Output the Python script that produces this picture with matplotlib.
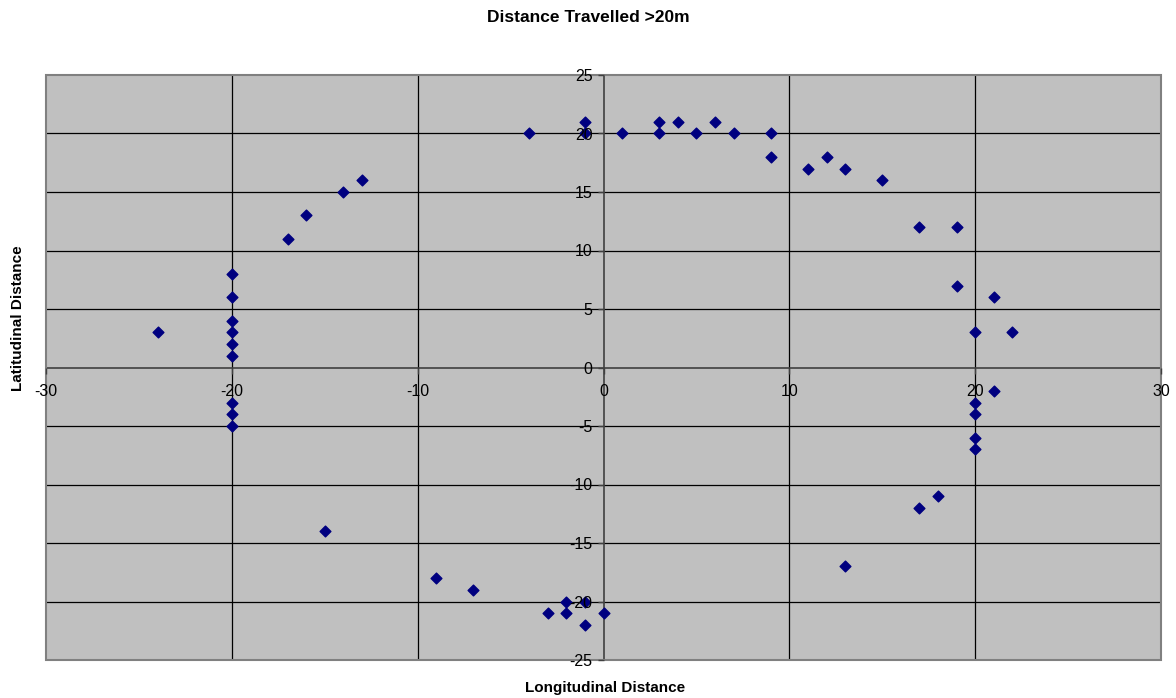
import matplotlib
matplotlib.use("Agg")
import matplotlib.pyplot as plt
from matplotlib.patches import Rectangle

plt.rcParams['font.family'] = ['Liberation Sans', 'DejaVu Sans']
plt.rcParams['axes.unicode_minus'] = False

x_vals = [-4, -1, -1, 1, 3, 3, 4, 5, 6, 7, 9, 9, 11, 12, 13, 15, 17, 19,
          19, 21, 20, 22, 21, 20, 20, 20, 20,
          17, 18, 13,
          -24, -20, -20, -20, -20, -20, -20, -20, -20, -20,
          -17, -16, -14, -13,
          -15, -9, -7, -3, -2, -2, -1, -1, 0]
y_vals = [20, 21, 20, 20, 21, 20, 21, 20, 21, 20, 20, 18, 17, 18, 17, 16, 12, 12,
          7, 6, 3, 3, -2, -3, -4, -6, -7,
          -12, -11, -17,
          3, 8, 6, 4, 3, 2, 1, -3, -4, -5,
          11, 13, 15, 16,
          -14, -18, -19, -21, -20, -21, -20, -22, -21]

x_ticks = [-30, -20, -10, 0, 10, 20, 30]
y_ticks = [-25, -20, -15, -10, -5, 0, 5, 10, 15, 20, 25]

title = "Distance Travelled >20m"
xlabel = "Longitudinal Distance"
ylabel = "Latitudinal Distance"

fig = plt.figure(figsize=(11.76, 6.98), dpi=100)
fig.patch.set_facecolor('white')
ax = fig.add_axes([46/1176, 1-660/698, (1161-46)/1176, (660-75)/698])
ax.set_facecolor('#C0C0C0')

ax.set_xlim(-30, 30)
ax.set_ylim(-25, 25)
ax.set_xticks(x_ticks)
ax.set_yticks(y_ticks)

for xv in x_ticks:
    if xv not in (-30, 0, 30):
        ax.axvline(xv, color='black', lw=0.9, zorder=1)
for yv in y_ticks:
    if yv not in (-25, 0, 25):
        ax.axhline(yv, color='black', lw=0.9, zorder=1)

for s in ['top', 'right']:
    ax.spines[s].set_visible(False)
ax.spines['left'].set_position(('data', 0))
ax.spines['bottom'].set_position(('data', 0))
for s in ['left', 'bottom']:
    ax.spines[s].set_color('#404040')
    ax.spines[s].set_linewidth(1.2)
    ax.spines[s].set_zorder(2)

ax.add_patch(Rectangle((0, 0), 1, 1, transform=ax.transAxes, fill=False,
                       edgecolor='#808080', lw=1.5, clip_on=False, zorder=3))

ax.tick_params(axis='both', direction='out', length=4, width=1, color='#404040',
               labelsize=11.5)
ax.tick_params(axis='x', pad=8)
ax.tick_params(axis='y', pad=4)

ax.scatter(x_vals, y_vals, marker='D', s=30, color='#000080', zorder=2.2, clip_on=False)
ax.xaxis.set_zorder(3.5)
ax.yaxis.set_zorder(3.5)

fig.text(588/1176, 1-17/698, title, ha='center', va='center', fontsize=12.5, fontweight='bold')
fig.text(605/1176, 1-688/698, xlabel, ha='center', va='center', fontsize=11, fontweight='bold')
fig.text(18/1176, 1-318/698, ylabel, ha='center', va='center', fontsize=11,
         fontweight='bold', rotation=90)

fig.savefig('out.png', dpi=100)
